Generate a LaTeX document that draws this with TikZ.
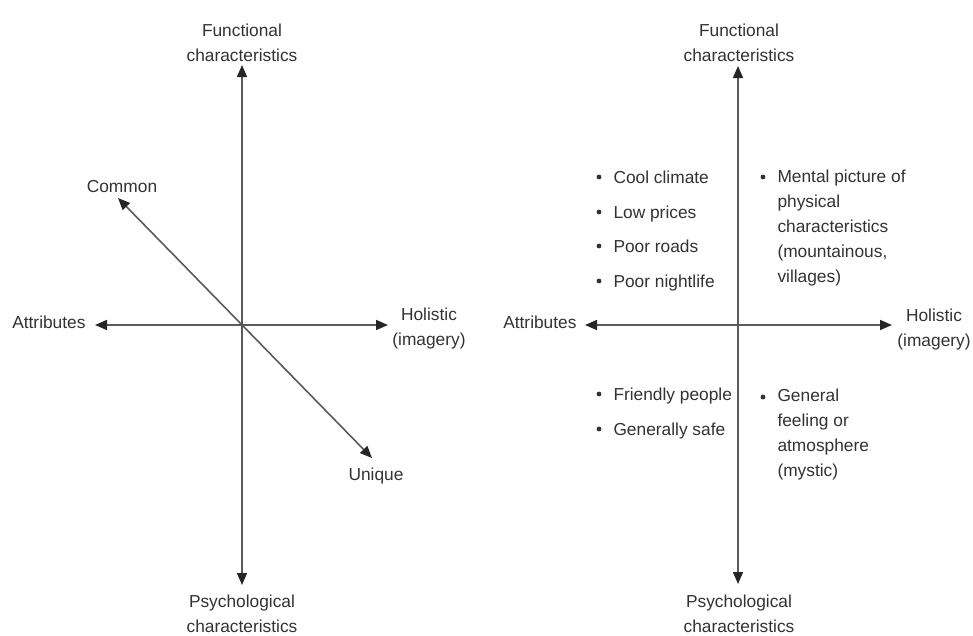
\documentclass[tikz,border=0pt]{standalone}
\usepackage{fontspec}
\setmainfont{Liberation Sans}
\usetikzlibrary{arrows.meta}

\definecolor{inkgray}{RGB}{50,50,50}
\definecolor{axisgray}{RGB}{90,90,90}

\tikzset{every picture/.style={line width=0.75pt}}
\tikzset{
  axis/.style={draw=axisgray, line width=1.2pt,
    {Triangle[length=9pt,width=7.5pt,color=black!85]}-{Triangle[length=9pt,width=7.5pt,color=black!85]}},
  lbl/.style={font=\fontsize{13}{18.75}\selectfont, text=inkgray, inner sep=0pt, align=center},
  item/.style={font=\fontsize{13}{18.75}\selectfont, text=inkgray, inner sep=0pt, align=left},
  dot/.style={circle, fill=inkgray, inner sep=0pt, minimum size=3.6pt}
}

\begin{document}
\begin{tikzpicture}[x=0.75pt,y=0.75pt,yscale=-1,xscale=1]
\useasboundingbox (0,0) rectangle (973,635);

% Axis ends, left diagram
\coordinate (lN) at (242,65);
\coordinate (lS) at (242,585);
\coordinate (lW) at (95,325);
\coordinate (lE) at (388,325);
\coordinate (lC) at (118,198);
\coordinate (lU) at (372,458);
% Axis ends, right diagram
\coordinate (rN) at (738,66);
\coordinate (rS) at (738,584);
\coordinate (rW) at (585,325);
\coordinate (rE) at (892,325);

%Straight Lines
\draw [axis] (lS) -- (lN) ;
\draw [axis] (lW) -- (lE) ;
\draw [axis] (lC) -- (lU) ;
%Straight Lines
\draw [axis] (rS) -- (rN) ;
\draw [axis] (rW) -- (rE) ;

% Text Node
\node (funL) [lbl, anchor=north] at (242,23) {Functional\\characteristics};
% Text Node
\node (psyL) [lbl, anchor=north] at (242,594) {Psychological\\characteristics};
% Text Node
\node (attL) [lbl, anchor=base east] at (86,328) {Attributes};
% Text Node
\node (holL) [lbl, anchor=north] at (429,307) {Holistic\\(imagery)};
% Text Node
\node (comL) [lbl, anchor=base] at (122,192) {Common};
% Text Node
\node (uniL) [lbl, anchor=base] at (376,480) {Unique};

% Text Node
\node (funR) [lbl, anchor=north] at (739,23) {Functional\\characteristics};
% Text Node
\node (psyR) [lbl, anchor=north] at (739,594) {Psychological\\characteristics};
% Text Node
\node (attR) [lbl, anchor=base east] at (577,328) {Attributes};
% Text Node
\node (holR) [lbl, anchor=north] at (934,308) {Holistic\\(imagery)};

% Bullet items, upper left
\node (d1) [dot] at (599,177) {};
\node (t1) [item, anchor=base west] at (613,183) {Cool climate};
\node (d2) [dot] at (599,212) {};
\node (t2) [item, anchor=base west] at (613,218) {Low prices};
\node (d3) [dot] at (599,246) {};
\node (t3) [item, anchor=base west] at (613,252) {Poor roads};
\node (d4) [dot] at (599,281) {};
\node (t4) [item, anchor=base west] at (613,287) {Poor nightlife};
% Bullet items, upper right
\node (d5) [dot] at (763,177) {};
\node (t5) [item, anchor=north west] at (777,169) {Mental picture of\\physical\\characteristics\\(mountainous,\\villages)};
% Bullet items, lower left
\node (d6) [dot] at (599,394) {};
\node (t6) [item, anchor=base west] at (613,400) {Friendly people};
\node (d7) [dot] at (599,429) {};
\node (t7) [item, anchor=base west] at (613,435) {Generally safe};
% Bullet items, lower right
\node (d8) [dot] at (763,397) {};
\node (t8) [item, anchor=north west] at (777,388) {General\\feeling or\\atmosphere\\(mystic)};

\end{tikzpicture}
\end{document}
